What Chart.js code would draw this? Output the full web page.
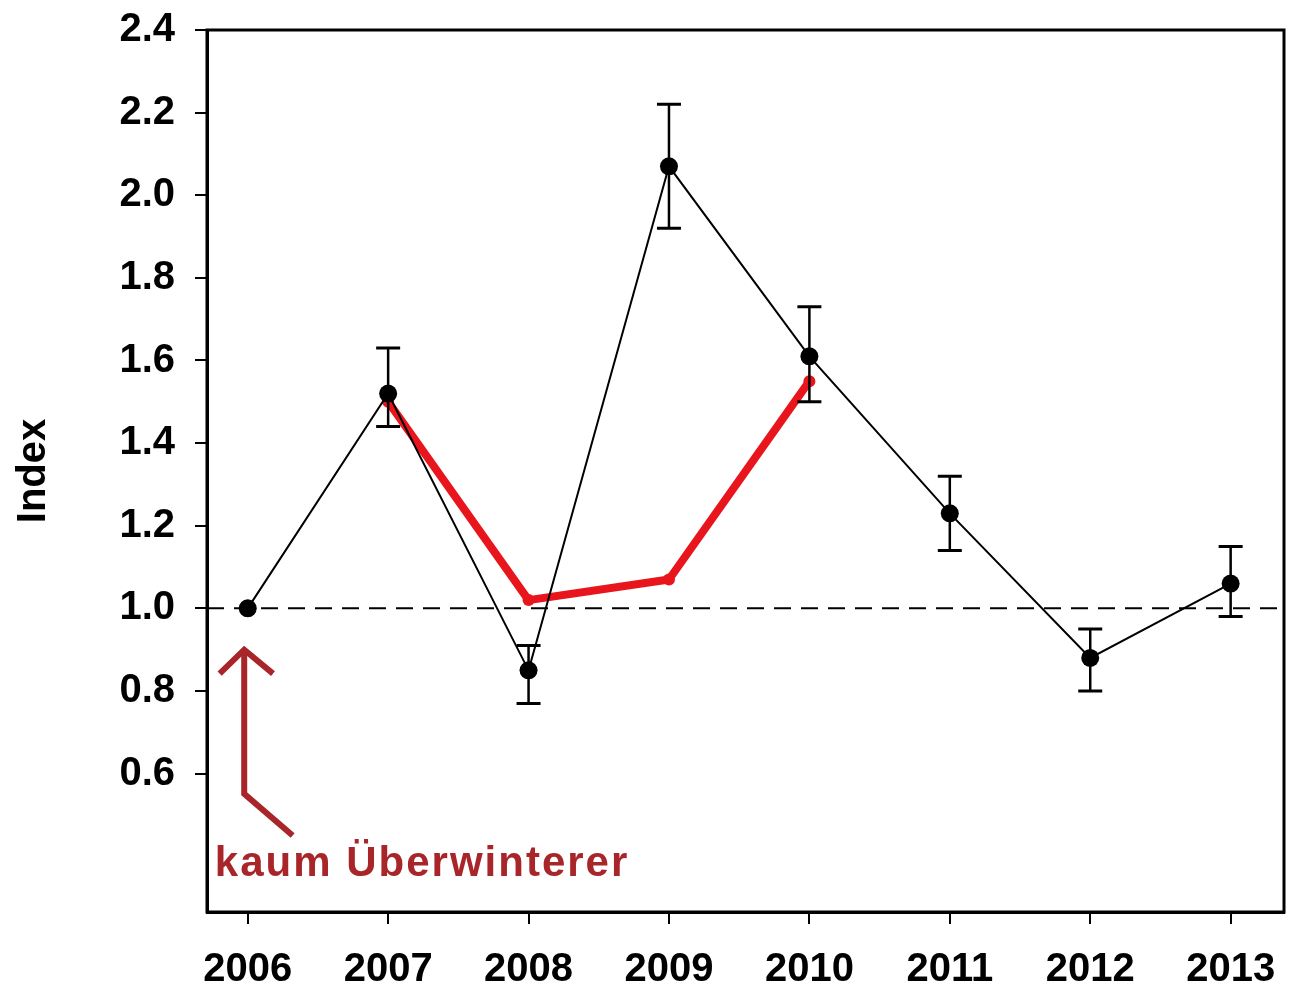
<!DOCTYPE html>
<html>
<head>
<meta charset="utf-8">
<script src="https://cdn.jsdelivr.net/npm/chart.js@4"></script>
<style>
  body { margin: 0; background: #fff; }
  #wrap { width: 1293px; height: 1001px; }
</style>
</head>
<body>
<div id="wrap"><canvas id="chart" width="1293" height="1001"></canvas></div>
<script>
// data
const years = [2006, 2007, 2008, 2009, 2010, 2011, 2012, 2013];
const indexMean = [1.00, 1.52, 0.85, 2.07, 1.61, 1.23, 0.88, 1.06];
const errLow = [null, 1.44, 0.77, 1.92, 1.50, 1.14, 0.80, 0.98];
const errHigh = [null, 1.63, 0.91, 2.22, 1.73, 1.32, 0.95, 1.15];

const redYears = [2007, 2008, 2009, 2010];
const redValues = [1.50, 1.02, 1.07, 1.55];

const refLevel = 1.0;
const yTickValues = [0.6, 0.8, 1.0, 1.2, 1.4, 1.6, 1.8, 2.0, 2.2, 2.4];

const xMin = 2005.71, xMax = 2013.38;
const yMin = 0.265, yMax = 2.4;

// annotation (in data units)
const noteText = 'kaum Überwinterer';
const noteAnchor = [2005.766, 0.353];
const arrowShaft = [[2005.975, 0.90], [2005.975, 0.551], [2006.32, 0.45]];
const arrowHead = [[2005.80, 0.842], [2005.975, 0.90], [2006.18, 0.842]];

const tickFont = { family: 'Liberation Sans, Arial, sans-serif', size: 40, weight: 'bold' };

// error bars
const errorBarPlugin = {
    id: 'errorBars',
    afterDatasetsDraw(chart) {
        const ctx = chart.ctx;
        const xs = chart.scales.x, ys = chart.scales.y;
        ctx.save();
        ctx.strokeStyle = '#000';
        for (let i = 0; i < years.length; i++) {
            if (errLow[i] == null) continue;
            const x = xs.getPixelForValue(years[i]);
            const y1 = ys.getPixelForValue(errLow[i]);
            const y2 = ys.getPixelForValue(errHigh[i]);
            ctx.lineWidth = 2.5;
            ctx.beginPath();
            ctx.moveTo(x, y1); ctx.lineTo(x, y2);
            ctx.stroke();
            ctx.lineWidth = 3;
            ctx.beginPath();
            ctx.moveTo(x - 12, y1); ctx.lineTo(x + 12, y1);
            ctx.moveTo(x - 12, y2); ctx.lineTo(x + 12, y2);
            ctx.stroke();
        }
        ctx.restore();
    }
};

// box round the plot + red note
const framePlugin = {
    id: 'frame',
    afterDraw(chart) {
        const ctx = chart.ctx;
        const a = chart.chartArea;
        const xs = chart.scales.x, ys = chart.scales.y;
        ctx.save();
        ctx.strokeStyle = '#000';
        ctx.lineWidth = 3;
        ctx.strokeRect(a.left, a.top, a.right - a.left, a.bottom - a.top);

        const px = p => [xs.getPixelForValue(p[0]), ys.getPixelForValue(p[1])];
        ctx.strokeStyle = '#a8262a';
        ctx.lineWidth = 6;
        ctx.lineJoin = 'miter';
        ctx.beginPath();
        arrowShaft.forEach((p, i) => { const q = px(p); i ? ctx.lineTo(q[0], q[1]) : ctx.moveTo(q[0], q[1]); });
        ctx.stroke();
        ctx.beginPath();
        arrowHead.forEach((p, i) => { const q = px(p); i ? ctx.lineTo(q[0], q[1]) : ctx.moveTo(q[0], q[1]); });
        ctx.stroke();

        const t = px(noteAnchor);
        ctx.fillStyle = '#a8262a';
        ctx.font = 'bold 42px "Liberation Sans", Arial, sans-serif';
        ctx.letterSpacing = '2px';
        ctx.textBaseline = 'alphabetic';
        ctx.textAlign = 'left';
        ctx.fillText(noteText, t[0], t[1]);
        ctx.restore();
    }
};

const ctx = document.getElementById('chart').getContext('2d');
const chart = new Chart(ctx, {
    type: 'line',
    data: {
        datasets: [
            {
                data: years.map((y, i) => ({ x: y, y: indexMean[i] })),
                borderColor: '#000',
                backgroundColor: '#000',
                borderWidth: 2,
                pointRadius: 9,
                pointBorderWidth: 0,
                tension: 0
            },
            {
                data: redYears.map((y, i) => ({ x: y, y: redValues[i] })),
                borderColor: '#e8161c',
                backgroundColor: '#e8161c',
                borderWidth: 8,
                pointRadius: 6,
                pointBorderWidth: 0,
                borderJoinStyle: 'round',
                tension: 0
            },
            {
                data: [{ x: xMin, y: refLevel }, { x: xMax, y: refLevel }],
                borderColor: '#000',
                borderWidth: 2,
                borderDash: [17, 10],
                pointRadius: 0
            }
        ]
    },
    options: {
        responsive: false,
        animation: false,
        layout: { padding: { top: 30, right: 4, left: 0, bottom: 0 } },
        plugins: {
            legend: { display: false },
            tooltip: { enabled: false }
        },
        scales: {
            x: {
                type: 'linear',
                min: xMin,
                max: xMax,
                afterBuildTicks: s => { s.ticks = years.map(v => ({ value: v })); },
                afterFit: s => { s.height = 89; s.paddingLeft = 0; s.paddingRight = 0; },
                ticks: {
                    color: '#000',
                    font: tickFont,
                    padding: 22,
                    maxRotation: 0,
                    autoSkip: false,
                    callback: v => String(v)
                },
                grid: { drawOnChartArea: false, drawTicks: true, tickLength: 12, color: '#000', lineWidth: 2 },
                border: { display: true, color: '#000', width: 3 }
            },
            y: {
                min: yMin,
                max: yMax,
                afterBuildTicks: s => { s.ticks = yTickValues.map(v => ({ value: v })); },
                afterFit: s => { s.width = 207; s.paddingTop = 0; s.paddingBottom = 0; },
                ticks: {
                    color: '#000',
                    font: tickFont,
                    padding: 20,
                    autoSkip: false,
                    callback: v => v.toFixed(1)
                },
                title: {
                    display: true,
                    text: 'Index',
                    color: '#000',
                    font: { family: 'Liberation Sans, Arial, sans-serif', size: 40, weight: 'bold' },
                    padding: { top: 10, bottom: 0 }
                },
                grid: { drawOnChartArea: false, drawTicks: true, tickLength: 12, color: '#000', lineWidth: 2 },
                border: { display: true, color: '#000', width: 3 }
            }
        }
    },
    plugins: [errorBarPlugin, framePlugin]
});
</script>
</body>
</html>
